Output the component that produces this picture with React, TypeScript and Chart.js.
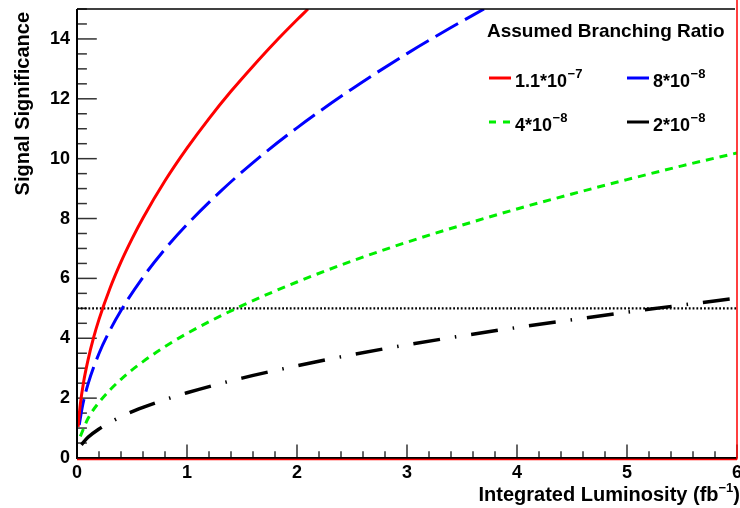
import React, { useEffect, useRef } from "react";
import Chart from "chart.js/auto";

// Integrated luminosity (fb^-1) and signal significance
const redL = [0.01, 0.03, 0.06, 0.1, 0.15, 0.2, 0.3, 0.4, 0.5, 0.6, 0.8, 1.0, 1.2, 1.4, 1.6, 1.8, 2.0, 2.1];
const redS = [1.04, 1.79, 2.54, 3.27, 4.01, 4.63, 5.67, 6.55, 7.32, 8.02, 9.26, 10.35, 11.34, 12.25, 13.09, 13.89, 14.64, 15.0];

const blueL = [0.02, 0.05, 0.1, 0.2, 0.3, 0.4, 0.6, 0.8, 1.0, 1.3, 1.6, 2.0, 2.5, 3.0, 3.4, 3.7];
const blueS = [1.1, 1.74, 2.47, 3.49, 4.27, 4.93, 6.04, 6.98, 7.8, 8.89, 9.87, 11.03, 12.33, 13.51, 14.38, 15.0];

const greenL = [0.03, 0.1, 0.2, 0.4, 0.6, 0.8, 1.0, 1.5, 2.0, 2.5, 3.0, 3.5, 4.0, 4.5, 5.0, 5.5, 6.0];
const greenS = [0.72, 1.32, 1.86, 2.63, 3.22, 3.72, 4.16, 5.09, 5.88, 6.58, 7.21, 7.78, 8.32, 8.82, 9.3, 9.76, 10.19];

const blackL = [0.04, 0.1, 0.2, 0.4, 0.6, 0.8, 1.0, 1.5, 2.0, 2.5, 3.0, 3.5, 4.0, 4.5, 5.0, 5.5, 6.0];
const blackS = [0.44, 0.69, 0.97, 1.38, 1.69, 1.95, 2.18, 2.67, 3.08, 3.45, 3.78, 4.08, 4.36, 4.62, 4.87, 5.11, 5.34];

const fiveSigmaL = [0, 6];
const fiveSigmaS = [5, 5];

const xTickLabels = ["0", "1", "2", "3", "4", "5", "6"];
const yTickLabels = ["0", "2", "4", "6", "8", "10", "12", "14"];

const legendTitle = "Assumed Branching Ratio";
const legendBases = ["1.1*10", "8*10", "4*10", "2*10"];
const legendExps = ["\u22127", "\u22128", "\u22128", "\u22128"];
const seriesColors = ["#ff0000", "#0000ff", "#00ee00", "#000000"];

const xTitleMain = "Integrated Luminosity (fb";
const xTitleExp = "\u22121";
const xTitleEnd = ")";
const yTitle = "Signal Significance";

const FONT = "'Liberation Sans', Arial, Helvetica, sans-serif";

const pts = (xs: number[], ys: number[]) => xs.map((x, i) => ({ x, y: ys[i] }));

const rootPlugin = {
  id: "rootStyle",
  beforeDatasetsDraw(chart: any) {
    const { ctx, chartArea: a, scales } = chart;
    const x = scales.x;
    const y = scales.y;
    ctx.save();
    // inward ticks
    ctx.strokeStyle = "#333";
    ctx.lineWidth = 1.5;
    const xLen = 0.03 * (a.bottom - a.top);
    const yLen = 0.03 * (a.right - a.left);
    for (let i = 0; i <= 30; i++) {
      const v = i * 0.2;
      const px = x.getPixelForValue(v);
      const len = i % 5 === 0 ? xLen : xLen / 2;
      ctx.beginPath();
      ctx.moveTo(px, a.bottom);
      ctx.lineTo(px, a.bottom - len);
      ctx.stroke();
    }
    for (let i = 0; i <= 30; i++) {
      const v = i * 0.5;
      const py = y.getPixelForValue(v);
      const len = i % 4 === 0 ? yLen : yLen / 2;
      ctx.beginPath();
      ctx.moveTo(a.left, py);
      ctx.lineTo(a.left + len, py);
      ctx.stroke();
    }
    ctx.restore();
  },
  afterDraw(chart: any) {
    const { ctx, chartArea: a } = chart;
    ctx.save();
    // frame
    ctx.lineWidth = 1.5;
    ctx.strokeStyle = "#000";
    ctx.beginPath();
    ctx.moveTo(a.left, a.top);
    ctx.lineTo(a.right - 2, a.top);
    ctx.stroke();
    ctx.lineWidth = 2;
    ctx.beginPath();
    ctx.moveTo(a.left, a.top);
    ctx.lineTo(a.left, a.bottom);
    ctx.lineTo(a.right, a.bottom);
    ctx.stroke();
    ctx.strokeStyle = "#ff0000";
    ctx.lineWidth = 1.5;
    ctx.beginPath();
    ctx.moveTo(a.left, a.bottom + 1.5);
    ctx.lineTo(a.right, a.bottom + 1.5);
    ctx.moveTo(a.right, 0);
    ctx.lineTo(a.right, a.bottom + 1.5);
    ctx.stroke();

    // axis titles
    ctx.fillStyle = "#000";
    ctx.textBaseline = "alphabetic";
    ctx.font = `bold 20px ${FONT}`;
    const wMain = ctx.measureText(xTitleMain).width;
    ctx.font = `bold 13px ${FONT}`;
    const wExp = ctx.measureText(xTitleExp).width;
    ctx.font = `bold 20px ${FONT}`;
    const wEnd = ctx.measureText(xTitleEnd).width;
    let sx = 740 - (wMain + wExp + wEnd);
    ctx.textAlign = "left";
    ctx.fillText(xTitleMain, sx, 501);
    sx += wMain;
    ctx.font = `bold 13px ${FONT}`;
    ctx.fillText(xTitleExp, sx, 492);
    sx += wExp;
    ctx.font = `bold 20px ${FONT}`;
    ctx.fillText(xTitleEnd, sx, 501);

    ctx.save();
    ctx.translate(29, 12);
    ctx.rotate(-Math.PI / 2);
    ctx.textAlign = "right";
    ctx.font = `bold 20px ${FONT}`;
    ctx.fillText(yTitle, 0, 0);
    ctx.restore();

    // legend
    ctx.textAlign = "left";
    ctx.font = `bold 19px ${FONT}`;
    ctx.fillText(legendTitle, 487, 37);
    const colX = [489, 627];
    const rowY = [78, 122];
    const rowBase = [87, 131];
    legendBases.forEach((b, i) => {
      const cx = colX[i % 2];
      const r = Math.floor(i / 2);
      ctx.strokeStyle = seriesColors[i];
      ctx.lineWidth = 3;
      ctx.setLineDash(i === 2 ? [7, 7] : []);
      ctx.beginPath();
      ctx.moveTo(cx, rowY[r]);
      ctx.lineTo(cx + 22, rowY[r]);
      ctx.stroke();
      ctx.setLineDash([]);
      ctx.font = `bold 18px ${FONT}`;
      const tx = cx + 26;
      ctx.fillText(b, tx, rowBase[r]);
      const w = ctx.measureText(b).width;
      ctx.font = `bold 13px ${FONT}`;
      ctx.fillText(legendExps[i], tx + w + 0.5, rowBase[r] - 9);
    });
    ctx.restore();
  },
};

export default function App() {
  const ref = useRef<HTMLCanvasElement | null>(null);
  useEffect(() => {
    document.body.style.margin = "0";
    if (!ref.current) return;
    const chart = new Chart(ref.current, {
      type: "line",
      data: {
        datasets: [
          {
            data: pts(redL, redS),
            borderColor: seriesColors[0],
            borderWidth: 3,
            pointRadius: 0,
            cubicInterpolationMode: "monotone",
          },
          {
            data: pts(blueL, blueS),
            borderColor: seriesColors[1],
            borderWidth: 3,
            borderDash: [26, 8],
            pointRadius: 0,
            cubicInterpolationMode: "monotone",
          },
          {
            data: pts(greenL, greenS),
            borderColor: seriesColors[2],
            borderWidth: 3,
            borderDash: [8, 6],
            pointRadius: 0,
            cubicInterpolationMode: "monotone",
          },
          {
            data: pts(blackL, blackS),
            borderColor: seriesColors[3],
            borderWidth: 3.5,
            borderDash: [27, 15, 1.5, 15],
            pointRadius: 0,
            cubicInterpolationMode: "monotone",
          },
          {
            data: pts(fiveSigmaL, fiveSigmaS),
            borderColor: "#000",
            borderWidth: 2.2,
            borderDash: [1.8, 2],
            pointRadius: 0,
          },
        ],
      },
      options: {
        animation: false,
        responsive: false,
        devicePixelRatio: 1,
        layout: { padding: { top: 9, right: 3, left: 0, bottom: 0 } },
        plugins: { legend: { display: false }, tooltip: { enabled: false } },
        scales: {
          x: {
            type: "linear",
            min: 0,
            max: 6,
            grid: { display: false, drawTicks: false },
            border: { display: false },
            ticks: {
              stepSize: 1,
              padding: 4,
              color: "#000",
              font: { family: FONT, size: 18, weight: "bold" },
              maxRotation: 0,
              callback: (v: any) => xTickLabels[Math.round(Number(v))] ?? "",
            },
            afterFit: (s: any) => {
              s.height = 50;
              s.paddingLeft = 0;
              s.paddingRight = 0;
            },
          },
          y: {
            type: "linear",
            min: 0,
            max: 15,
            grid: { display: false, drawTicks: false },
            border: { display: false },
            ticks: {
              stepSize: 2,
              includeBounds: false,
              padding: 7,
              color: "#000",
              font: { family: FONT, size: 18, weight: "bold" },
              callback: (v: any) => yTickLabels[Math.round(Number(v) / 2)] ?? "",
            },
            afterFit: (s: any) => {
              s.width = 77;
              s.paddingTop = 0;
              s.paddingBottom = 0;
            },
          },
        },
      },
      plugins: [rootPlugin],
    } as any);
    return () => chart.destroy();
  }, []);
  return (
    <div style={{ width: 740, height: 508 }}>
      <canvas ref={ref} width={740} height={508} style={{ display: "block" }} />
    </div>
  );
}
